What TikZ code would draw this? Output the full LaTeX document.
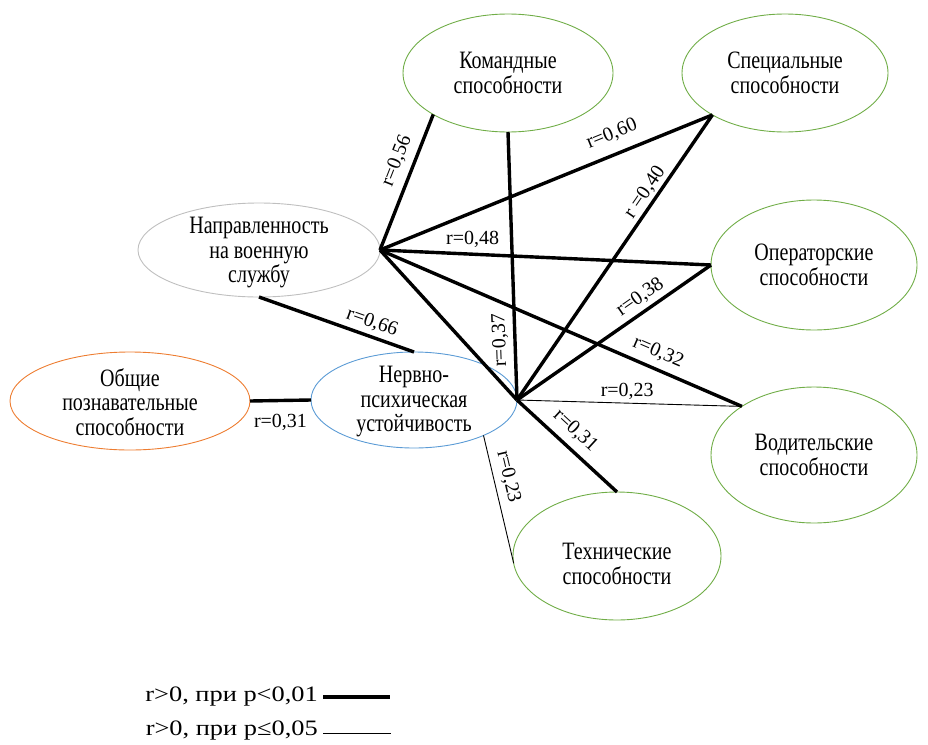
\documentclass[tikz,border=0pt]{standalone}
\usepackage{fontspec}
\setmainfont{Liberation Serif}
\newfontfamily\nodeserif{Liberation Serif}[FakeStretch=0.8]
\newfontfamily\legserif{Liberation Serif}[FakeStretch=1.2]
\usetikzlibrary{shapes.geometric}
\definecolor{eg}{RGB}{112,173,71}
\definecolor{eb}{RGB}{91,155,213}
\definecolor{eo}{RGB}{237,125,49}
\definecolor{egr}{RGB}{191,191,191}
\begin{document}
\begin{tikzpicture}[x=1pt,y=-1pt,
  ell/.style={ellipse, draw, line width=0.9pt, inner sep=0pt, outer sep=0pt},
  txt/.style={font=\nodeserif\fontsize{25}{24.5}\selectfont, align=center, inner sep=0pt},
  strong/.style={line width=3.4pt},
  weak/.style={line width=0.9pt},
  lab/.style={font=\fontsize{20}{24}\selectfont, inner sep=1pt},
  legtxt/.style={font=\legserif\fontsize{22}{28}\selectfont, inner sep=0pt, anchor=east}]
\useasboundingbox (0,0) rectangle (928,744);

% ellipses
\node[ell, draw=eg, minimum width=210pt, minimum height=118pt,
  label={[txt]center:{Командные\\способности}}] (kom) at (508,73) {};
\node[ell, draw=eg, minimum width=206pt, minimum height=118pt,
  label={[txt]center:{Специальные\\способности}}] (spec) at (785,73) {};
\node[ell, draw=egr, minimum width=242pt, minimum height=94pt,
  label={[txt, yshift=-3pt]center:{Направленность\\на военную\\службу}}] (napr) at (259,250) {};
\node[ell, draw=eg, minimum width=206pt, minimum height=130pt,
  label={[txt]center:{Операторские\\способности}}] (oper) at (814,265) {};
\node[ell, draw=eo, minimum width=240pt, minimum height=98pt,
  label={[txt, yshift=-1pt]center:{Общие\\познавательные\\способности}}] (obsh) at (130,401) {};
\node[ell, draw=eb, minimum width=206pt, minimum height=96pt,
  label={[txt, yshift=-2pt]center:{Нервно-\\психическая\\устойчивость}}] (nerv) at (414,400) {};
\node[ell, draw=eg, minimum width=206pt, minimum height=136pt,
  label={[txt]center:{Водительские\\способности}}] (vod) at (814,455) {};
\node[ell, draw=eg, minimum width=208pt, minimum height=128pt,
  label={[txt, yshift=-8pt]center:{Технические\\способности}}] (tech) at (617,556) {};

% connectors from Направленность
\draw[strong] (napr.east) -- node[lab, sloped, above=6pt, pos=0.61] {r=0,56} (kom.209);
\draw[strong] (napr.east) -- node[lab, sloped, above=9pt, pos=0.72] {r=0,60} (spec.210);
\draw[strong] (napr.east) -- node[lab, above=4pt, pos=0.28] {r=0,48} (oper.west);
\draw[strong] (napr.east) -- node[lab, sloped, above=6pt, pos=0.75] {r=0,32} (vod.146);
\draw[strong] (napr.east) -- (nerv.east);
\draw[strong] (napr.south) -- node[lab, sloped, above=3pt, pos=0.70] {r=0,66} (nerv.north);

% connectors from Нервно-психическая
\draw[strong] (nerv.east) -- node[lab, sloped, allow upside down, above=4pt, pos=0.224] {r=0,37} (kom.south);
\draw[strong] (nerv.east) -- node[lab, sloped, above=1pt, pos=0.705] {r =0,40} (spec.210);
\draw[strong] (nerv.east) -- node[lab, sloped, above=3pt, pos=0.676] {r=0,38} (oper.west);
\draw[weak] (nerv.east) -- node[lab, above=2pt, pos=0.49] {r=0,23} (vod.146);
\draw[strong] (nerv.east) -- node[lab, sloped, above=6pt, pos=0.47] {r=0,31} (tech.north);
\draw[weak] (nerv.333) -- node[lab, sloped, above=5pt, pos=0.35] {r=0,23} (tech.184);
\draw[strong] (obsh.east) -- node[lab, below=11pt, pos=0.5] {r=0,31} (nerv.west);

% legend
\node[legtxt] (leg1) at (318,697) {r>0, при p<0,01};
\node[legtxt] (leg2) at (318,731) {r>0, при p≤0,05};
\coordinate (l1a) at (323,697);
\coordinate (l1b) at (390,697);
\coordinate (l2a) at (323,733);
\coordinate (l2b) at (391,733);
\draw[line width=4pt] (l1a) -- (l1b);
\draw[line width=1pt] (l2a) -- (l2b);
\end{tikzpicture}
\end{document}
